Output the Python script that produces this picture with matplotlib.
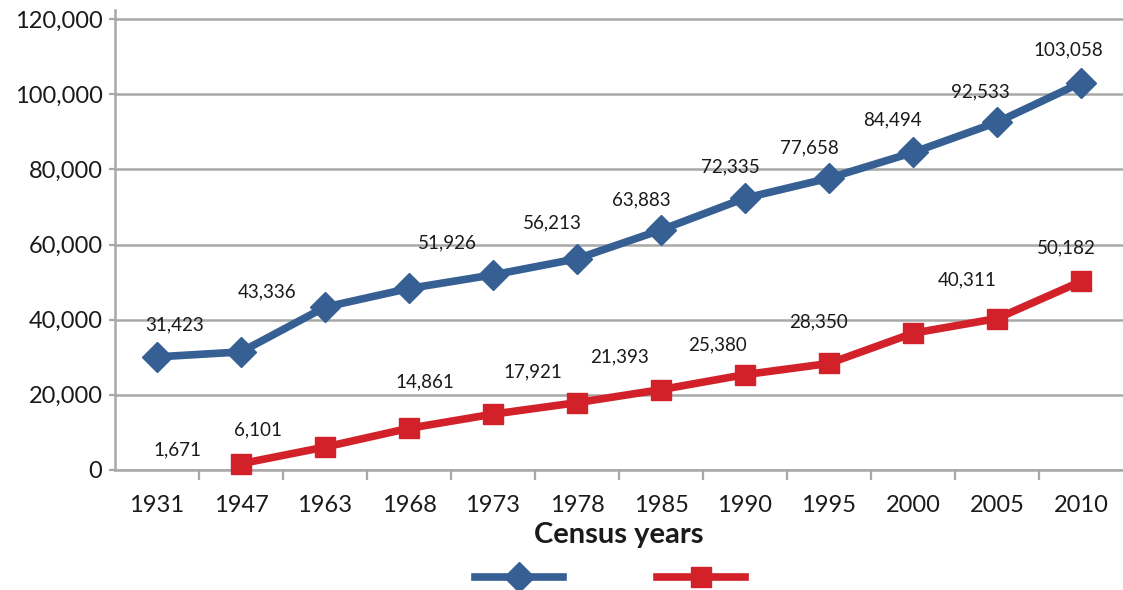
import numpy as np
from matplotlib import pyplot as plt
from matplotlib.lines import Line2D

plt.rcParams['font.family'] = ['Lato', 'DejaVu Sans']

# census data
years = ['1931', '1947', '1963', '1968', '1973', '1978', '1985', '1990', '1995', '2000', '2005', '2010']
blue_vals = [30100, 31423, 43336, 48300, 51926, 56213, 63883, 72335, 77658, 84494, 92533, 103058]
red_vals = [np.nan, 1671, 6101, 11100, 14861, 17921, 21393, 25380, 28350, 36400, 40311, 50182]

# value labels as printed (they sit a bit off their points in the original)
blue_labels = ['31,423', '43,336', '51,926', '56,213', '63,883', '72,335', '77,658', '84,494', '92,533', '103,058']
red_labels = ['1,671', '6,101', '14,861', '17,921', '21,393', '25,380', '28,350', '40,311', '50,182']

# where those labels are drawn (category position, value position)
blue_label_pos = [(0.21, 38600), (1.31, 47300), (3.46, 60400), (4.71, 65700), (5.77, 71800),
                  (6.82, 80600), (7.77, 85600), (8.76, 93100), (9.80, 100500), (10.85, 111700)]
red_label_pos = [(0.24, 5300), (1.20, 10600), (3.19, 23400), (4.48, 26100), (5.51, 30100),
                 (6.67, 33300), (7.87, 39400), (9.65, 50500), (10.83, 59000)]

BLUE = '#365f93'
RED = '#d22129'
GRID = '#a8a8a8'
TXT = '#1a1a1a'

fig = plt.figure(figsize=(11.23, 5.90), dpi=100)
ax = fig.add_axes([0.1024, 0.2034, 0.8976, 0.7796])

x = np.arange(len(years))
ax.plot(x, blue_vals, color=BLUE, lw=5.5, marker='D', ms=15, clip_on=False, zorder=3)
ax.plot(x, red_vals, color=RED, lw=5.5, marker='s', ms=14, clip_on=False, zorder=3)

for txt, (lx, ly) in zip(blue_labels, blue_label_pos):
	ax.text(lx, ly, txt, ha='center', va='center', fontsize=13.5, color=TXT)
for txt, (lx, ly) in zip(red_labels, red_label_pos):
	ax.text(lx, ly, txt, ha='center', va='center', fontsize=13.5, color=TXT)

ax.set_xlim(-0.5, 11.5)
ax.set_ylim(0, 122400)
ax.set_yticks(np.arange(0, 120001, 20000))
ax.set_yticklabels([f'{v:,}' for v in range(0, 120001, 20000)], fontsize=17, color=TXT)
ax.set_xticks(x)
ax.set_xticklabels(years, fontsize=17, color=TXT)
ax.set_xticks(np.arange(0.5, 11, 1), minor=True)
ax.tick_params(axis='x', which='major', length=0, pad=18)
ax.tick_params(axis='x', which='minor', length=7, width=1.6, color=GRID)
ax.tick_params(axis='y', length=4, width=1.6, color=GRID, pad=5)

ax.yaxis.grid(True, color=GRID, lw=1.8)
ax.set_axisbelow(True)
for s in ['top', 'right']:
	ax.spines[s].set_visible(False)
for s in ['left', 'bottom']:
	ax.spines[s].set_color(GRID)
	ax.spines[s].set_linewidth(1.8)

ax.set_xlabel('Census years', fontsize=21, fontweight='bold', labelpad=4, color=TXT)

handles = [Line2D([], [], color=BLUE, lw=5.5, marker='D', ms=15),
           Line2D([], [], color=RED, lw=5.5, marker='s', ms=14)]
fig.legend(handles, ['', ''], loc='center', bbox_to_anchor=(0.543, 0.02), ncol=2, frameon=False,
           handlelength=6.3, handletextpad=0, columnspacing=6.8, fontsize=10)

fig.savefig('out.png', dpi=100)
